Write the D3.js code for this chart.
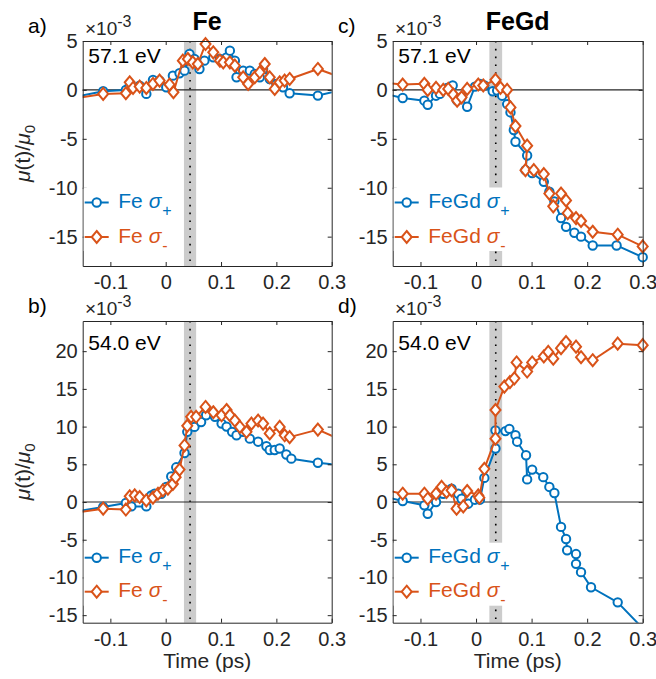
<!DOCTYPE html>
<html><head><meta charset="utf-8">
<script src="https://cdn.jsdelivr.net/npm/d3@7"></script>
<style>
body{margin:0;background:#fff}
svg{display:block;font-family:"Liberation Sans",Arial,Helvetica,sans-serif}
</style></head><body>
<svg id="chart" width="656" height="679"></svg>
<script>
// ---- tick values ----
const xTicks = [-0.1, 0, 0.1, 0.2, 0.3];
const yTicksTop = [-15, -10, -5, 0, 5];
const yTicksBottom = [-15, -10, -5, 0, 5, 10, 15, 20];

// ---- pump/probe overlap windows (ps) ----
const bandFe = [0.033, 0.055], overlapFe = 0.044;
const bandFeGd = [0.024, 0.047], overlapFeGd = 0.0355;

// ---- a) Fe, 57.1 eV (units of 1e-3) ----
const feHighPlusT = [-0.18,-0.113,-0.072,-0.065,-0.047,-0.035,-0.023,-0.011,0.001,0.013,0.025,0.034,0.043,0.052,0.061,0.070,0.086,0.098,0.110,0.116,0.125,0.128,0.140,0.152,0.161,0.170,0.176,0.188,0.200,0.212,0.224,0.275,0.33];
const feHighPlusV = [-0.9,-0.14,0.0,0.44,0.44,-0.41,1.02,0.95,0.27,1.46,1.70,1.97,3.67,3.16,2.14,2.99,3.33,3.16,3.33,4.01,2.99,1.29,1.97,1.97,1.63,1.29,2.14,1.12,0.61,0.27,-0.34,-0.58,0.17];
const feHighMinusT = [-0.18,-0.113,-0.072,-0.065,-0.059,-0.047,-0.035,-0.023,-0.011,0.007,0.014,0.031,0.040,0.049,0.058,0.072,0.086,0.098,0.104,0.116,0.125,0.140,0.149,0.161,0.170,0.179,0.188,0.197,0.206,0.215,0.224,0.275,0.33];
const feHighMinusV = [-1.0,-0.41,-0.34,0.78,0.20,0.34,0.20,0.61,0.95,0.54,-0.24,2.99,3.16,2.82,2.65,4.69,3.84,2.99,2.82,2.82,2.48,1.29,0.61,1.29,1.80,2.65,1.29,0.10,0.78,0.95,1.12,2.14,1.0];

// ---- c) FeGd, 57.1 eV ----
const fegdHighPlusT = [-0.18,-0.132,-0.093,-0.087,-0.072,-0.065,-0.052,-0.042,-0.034,-0.026,-0.016,-0.002,0.007,0.015,0.030,0.038,0.047,0.056,0.062,0.068,0.071,0.092,0.089,0.101,0.122,0.132,0.141,0.153,0.162,0.177,0.189,0.210,0.253,0.300];
const fegdHighPlusV = [-0.2,-0.83,-1.10,-1.52,-0.59,-0.41,0.21,0.45,-1.10,-0.76,-1.72,0.34,0.62,0.45,-0.14,-0.07,-0.59,-1.45,-2.3,-4.1,-5.3,-6.7,-8.2,-8.5,-9.4,-10.4,-11.4,-13.1,-14.0,-14.6,-15.0,-15.9,-15.9,-17.1];
const fegdHighMinusT = [-0.18,-0.132,-0.093,-0.087,-0.072,-0.059,-0.050,-0.041,-0.034,-0.026,-0.016,0.004,0.013,0.035,0.044,0.056,0.062,0.071,0.092,0.089,0.104,0.122,0.132,0.139,0.153,0.162,0.165,0.180,0.189,0.210,0.255,0.300];
const fegdHighMinusV = [0.8,0.55,0.62,0.0,0.21,0.0,0.10,-0.48,-1.10,-0.76,0.10,0.55,0.45,1.03,0.21,0.0,-1.79,-3.7,-5.7,-8.2,-8.2,-8.6,-10.6,-11.9,-10.6,-11.3,-12.6,-13.1,-13.4,-14.5,-14.8,-16.0];

// ---- b) Fe, 54.0 eV ----
const feLowPlusT = [-0.18,-0.113,-0.072,-0.062,-0.035,-0.026,-0.020,-0.008,0.001,0.010,0.019,0.034,0.039,0.052,0.064,0.073,0.089,0.101,0.110,0.120,0.128,0.140,0.152,0.167,0.182,0.188,0.197,0.206,0.218,0.227,0.275,0.33];
const feLowPlusV = [-1.46,-0.66,-0.13,-0.58,-0.58,0.88,1.1,1.1,2.0,3.4,4.6,6.5,9.3,9.96,10.6,11.5,11.3,10.4,10.0,9.3,8.85,9.3,8.4,8.0,7.4,6.9,6.9,7.1,6.3,5.75,5.2,4.76];
const feLowMinusT = [-0.18,-0.113,-0.072,-0.065,-0.056,-0.047,-0.035,-0.023,-0.014,-0.005,0.004,0.013,0.018,0.025,0.034,0.039,0.046,0.055,0.072,0.086,0.101,0.110,0.116,0.125,0.134,0.146,0.155,0.167,0.176,0.188,0.206,0.215,0.224,0.275,0.33];
const feLowMinusV = [-1.6,-0.88,-1.0,0.75,0.88,0.66,0.22,0.58,1.1,1.55,1.77,2.4,3.3,4.3,7.5,10.1,11.3,11.3,12.6,11.9,11.5,12.2,11.5,10.8,9.96,9.3,10.4,10.8,10.4,9.1,9.96,8.85,8.6,9.6,7.8];

// ---- d) FeGd, 54.0 eV ----
const fegdLowPlusT = [-0.18,-0.132,-0.093,-0.087,-0.072,-0.059,-0.044,-0.032,-0.026,-0.014,-0.002,0.007,0.015,0.035,0.035,0.053,0.060,0.071,0.074,0.090,0.092,0.101,0.121,0.132,0.141,0.153,0.162,0.164,0.180,0.180,0.189,0.207,0.255,0.31];
const fegdLowPlusV = [0.96,0.13,-0.44,-1.55,0.0,1.1,1.77,1.1,0.44,-0.22,0.31,0.31,3.2,7.1,9.5,9.4,9.7,8.85,8.0,6.2,3.0,4.3,3.3,2.0,1.2,-3.3,-4.9,-6.4,-6.9,-8.2,-9.3,-11.3,-13.3,-17.5];
const fegdLowMinusT = [-0.18,-0.132,-0.093,-0.087,-0.072,-0.062,-0.053,-0.044,-0.035,-0.023,-0.016,0.004,0.006,0.015,0.035,0.035,0.051,0.061,0.069,0.073,0.092,0.101,0.122,0.130,0.139,0.153,0.162,0.180,0.189,0.210,0.255,0.300];
const fegdLowMinusV = [1.8,1.1,1.1,0.44,1.1,2.0,1.33,1.55,-0.88,-0.58,1.46,0.88,0.58,4.4,8.4,12.2,15.3,15.9,16.4,18.5,17.3,18.5,19.3,19.9,19.0,20.4,21.2,20.6,19.2,18.8,21.0,20.8];

const colPlus = "#0072BD", colMinus = "#D95319", axisCol = "#262626";
const TICK_FONT = 20, LABEL_FONT = 21;

const panels = [
  {tag:"a)", sample:"Fe",   energy:"57.1 eV", x0:82.7,  x1:331.7, y0:41,  y1:266,   yDomain:[-18,5],  yTicks:yTicksTop,
   band:bandFe, overlap:overlapFe, plus:[feHighPlusT, feHighPlusV], minus:[feHighMinusT, feHighMinusV], title:true, energyDy:22.3},
  {tag:"c)", sample:"FeGd", energy:"57.1 eV", x0:392.7, x1:642.7, y0:41,  y1:266,   yDomain:[-18,5],  yTicks:yTicksTop,
   band:bandFeGd, overlap:overlapFeGd, plus:[fegdHighPlusT, fegdHighPlusV], minus:[fegdHighMinusT, fegdHighMinusV], title:true, energyDy:22.3},
  {tag:"b)", sample:"Fe",   energy:"54.0 eV", x0:82.7,  x1:331.7, y0:321, y1:622.7, yDomain:[-16,24], yTicks:yTicksBottom,
   band:bandFe, overlap:overlapFe, plus:[feLowPlusT, feLowPlusV], minus:[feLowMinusT, feLowMinusV], xlabel:true, energyDy:29},
  {tag:"d)", sample:"FeGd", energy:"54.0 eV", x0:392.7, x1:642.7, y0:321, y1:622.7, yDomain:[-16,24], yTicks:yTicksBottom,
   band:bandFeGd, overlap:overlapFeGd, plus:[fegdLowPlusT, fegdLowPlusV], minus:[fegdLowMinusT, fegdLowMinusV], xlabel:true, energyDy:29}
];

const svg = d3.select("#chart");
const xDomain = [-0.15, 0.3];

function diamondPath(w, h){ return `M0,${-h}L${w},0L0,${h}L${-w},0Z`; }
const circlePath = d3.symbol(d3.symbolCircle, Math.PI * 4.2 * 4.2)();
const diamond = diamondPath(5, 6);

panels.forEach((p, i) => {
  const x = d3.scaleLinear().domain(xDomain).range([p.x0, p.x1]);
  const y = d3.scaleLinear().domain(p.yDomain).range([p.y1, p.y0]);
  const g = svg.append("g");
  const clipId = "clip" + i;
  svg.append("clipPath").attr("id", clipId).append("rect")
    .attr("x", p.x0).attr("y", p.y0).attr("width", p.x1 - p.x0).attr("height", p.y1 - p.y0);

  // overlap window
  g.append("rect").attr("x", x(p.band[0])).attr("y", p.y0)
    .attr("width", x(p.band[1]) - x(p.band[0])).attr("height", p.y1 - p.y0)
    .attr("fill", "#cccccc");
  g.append("line").attr("x1", x(p.overlap)).attr("x2", x(p.overlap))
    .attr("y1", p.y0).attr("y2", p.y1)
    .attr("stroke", "#000").attr("stroke-width", 1.6).attr("stroke-dasharray", "1.6,6.2");
  // zero line
  g.append("line").attr("x1", p.x0).attr("x2", p.x1).attr("y1", y(0)).attr("y2", y(0))
    .attr("stroke", axisCol).attr("stroke-width", 1.2);

  // series
  const series = [
    {t:p.plus[0], v:p.plus[1], col:colPlus, marker:circlePath},
    {t:p.minus[0], v:p.minus[1], col:colMinus, marker:diamond}
  ];
  series.forEach(s => {
    const pts = s.t.map((t, k) => ({t, v: s.v[k]}));
    g.append("path").datum(pts)
      .attr("clip-path", `url(#${clipId})`)
      .attr("fill", "none").attr("stroke", s.col).attr("stroke-width", 2)
      .attr("stroke-linejoin", "round")
      .attr("d", d3.line().x(d => x(d.t)).y(d => y(d.v)));
    const inside = pts.filter(d => d.t >= xDomain[0] && d.t <= xDomain[1] + 1e-9 && d.v >= p.yDomain[0] && d.v <= p.yDomain[1]);
    g.append("g").selectAll("path").data(inside).join("path")
      .attr("transform", d => `translate(${x(d.t)},${y(d.v)})`)
      .attr("d", s.marker)
      .attr("fill", "#fff").attr("stroke", s.col).attr("stroke-width", 2);
  });

  // axes with inward ticks on all four sides
  const styleAxis = sel => {
    sel.selectAll("path.domain").attr("stroke", axisCol).attr("stroke-width", 1);
    sel.selectAll(".tick line").attr("stroke", axisCol).attr("stroke-width", 1);
    sel.selectAll("text").attr("fill", axisCol).style("font-size", TICK_FONT + "px")
      .style("font-family", '"Liberation Sans",Arial,Helvetica,sans-serif');
  };
  g.append("g").attr("transform", `translate(0,${p.y1})`)
    .call(d3.axisBottom(x).tickValues(xTicks).tickFormat(d => String(d)).tickSize(-4).tickSizeOuter(0).tickPadding(9))
    .call(styleAxis);
  g.append("g").attr("transform", `translate(0,${p.y0})`)
    .call(d3.axisTop(x).tickValues(xTicks).tickFormat("").tickSize(-4).tickSizeOuter(0))
    .call(styleAxis);
  g.append("g").attr("transform", `translate(${p.x0},0)`)
    .call(d3.axisLeft(y).tickValues(p.yTicks).tickFormat(d => String(d)).tickSize(-4).tickSizeOuter(0).tickPadding(5))
    .call(styleAxis);
  g.append("g").attr("transform", `translate(${p.x1},0)`)
    .call(d3.axisRight(y).tickValues(p.yTicks).tickFormat("").tickSize(-4).tickSizeOuter(0))
    .call(styleAxis);

  // exponent multiplier
  const mult = g.append("text").attr("x", p.x0 + 2.3).attr("y", p.y0 - 6)
    .attr("fill", axisCol).style("font-size", "19px");
  mult.append("tspan").text("\u00d710");
  mult.append("tspan").attr("dy", -8).style("font-size", "16px").text("-3");

  // energy label
  g.append("text").attr("x", p.x0 + 5.6).attr("y", p.y0 + p.energyDy)
    .attr("fill", "#000").style("font-size", LABEL_FONT + "px").text(p.energy);

  // panel tag
  g.append("text").attr("x", p.x0 - 54.7).attr("y", p.y0 - 8)
    .attr("fill", "#000").style("font-size", LABEL_FONT + "px").text(p.tag);

  if (p.title) {
    g.append("text").attr("x", (p.x0 + p.x1) / 2).attr("y", 30).attr("text-anchor", "middle")
      .attr("fill", "#000").style("font-size", "25px").style("font-weight", "bold").text(p.sample);
  }
  if (p.xlabel) {
    g.append("text").attr("x", (p.x0 + p.x1) / 2).attr("y", 668).attr("text-anchor", "middle")
      .attr("fill", axisCol).style("font-size", LABEL_FONT + "px").text("Time (ps)");
  }
  if (i % 2 === 0) {
    const yl = g.append("text")
      .attr("transform", `translate(30,${(p.y0 + p.y1) / 2}) rotate(-90)`)
      .attr("text-anchor", "middle").attr("fill", axisCol).style("font-size", LABEL_FONT + "px");
    yl.append("tspan").style("font-style", "italic").text("\u03bc");
    yl.append("tspan").text("(t)/");
    yl.append("tspan").style("font-style", "italic").text("\u03bc");
    yl.append("tspan").attr("dy", 5).style("font-size", "15px").text("0");
  }

  // legend
  const e1 = p.y1 - (p.xlabel ? 65 : 63.5), e2 = p.y1 - (p.xlabel ? 31 : 29);
  const lg = g.append("g");
  const box = lg.append("rect").attr("fill", "#fff");
  let maxRight = 0;
  [[e1, colPlus, "+", circlePath], [e2, colMinus, "-", diamond]].forEach(([ey, col, sub, mk]) => {
    lg.append("line").attr("x1", p.x0 + 2).attr("x2", p.x0 + 26).attr("y1", ey).attr("y2", ey)
      .attr("stroke", col).attr("stroke-width", 2);
    lg.append("path").attr("transform", `translate(${p.x0 + 14},${ey})`).attr("d", mk)
      .attr("fill", "#fff").attr("stroke", col).attr("stroke-width", 2);
    const t = lg.append("text").attr("x", p.x0 + 35.6).attr("y", ey + 5.5)
      .attr("fill", col).style("font-size", LABEL_FONT + "px");
    t.append("tspan").text(p.sample + " ");
    t.append("tspan").style("font-style", "italic").text("\u03c3");
    t.append("tspan").attr("dy", 8).attr("dx", 1).style("font-size", "16px").text(sub);
    const bb = t.node().getBBox();
    maxRight = Math.max(maxRight, bb.x + bb.width);
  });
  box.attr("x", p.x0 + 1).attr("y", e1 - 15).attr("width", maxRight + 4 - p.x0 - 1).attr("height", e2 - e1 + 29);
});
</script>
</body></html>
